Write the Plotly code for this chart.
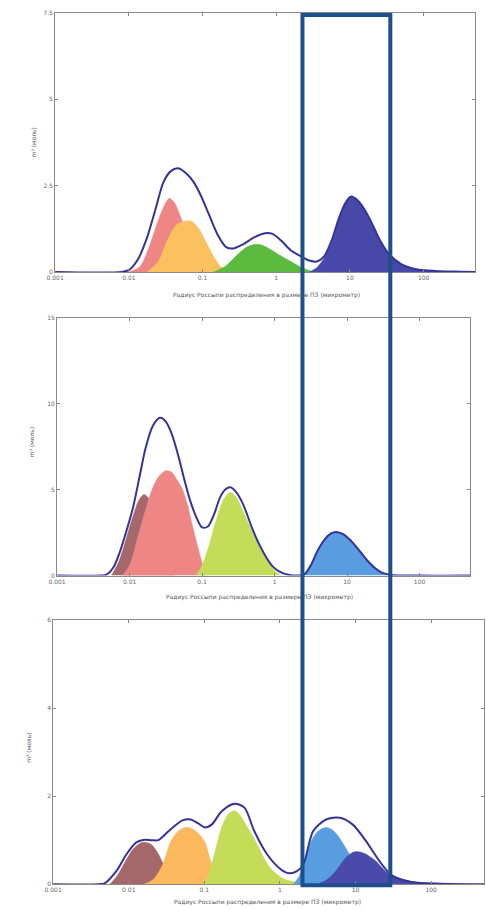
import plotly.graph_objects as go

# ---------------- data (x as log10 of radius, y as amplitude) ----------------
tick_vals = [0.001, 0.01, 0.1, 1, 10, 100]
tick_text = ["0.001", "0.01", "0.1", "1", "10", "100"]

# Panel 1
p1_env_logr = [-3, -2.1, -2.0, -1.88, -1.76, -1.64, -1.53, -1.43, -1.33, -1.22, -1.12, -1.02, -0.92, -0.8,
               -0.68, -0.58, -0.45, -0.3, -0.15, -0.05, 0.07, 0.2, 0.33, 0.45, 0.55, 0.65, 0.75, 0.85, 0.94,
               1.01, 1.1, 1.2, 1.3, 1.4, 1.53, 1.7, 1.9, 2.15, 2.4, 2.7]
p1_env_y = [0, 0, 0.05, 0.35, 0.95, 1.8, 2.6, 2.92, 3.0, 2.85, 2.6, 2.2, 1.7, 1.1, 0.72, 0.68, 0.8, 1.0, 1.12,
            1.1, 0.9, 0.62, 0.46, 0.33, 0.3, 0.45, 0.9, 1.55, 2.0, 2.18, 2.08, 1.8, 1.4, 0.95, 0.52, 0.22,
            0.08, 0.03, 0.01, 0]
p1_pink_logr = [-2.0, -1.85, -1.72, -1.6, -1.5, -1.45, -1.38, -1.28, -1.15, -1.0, -0.85]
p1_pink_y = [0, 0.15, 0.75, 1.5, 2.0, 2.13, 2.0, 1.5, 0.85, 0.25, 0]
p1_orange_logr = [-1.75, -1.6, -1.48, -1.36, -1.25, -1.15, -1.05, -0.95, -0.85, -0.75, -0.62]
p1_orange_y = [0, 0.3, 0.9, 1.35, 1.47, 1.47, 1.25, 0.85, 0.45, 0.15, 0]
p1_green_logr = [-0.85, -0.7, -0.55, -0.4, -0.28, -0.2, -0.1, 0.05, 0.2, 0.35, 0.5]
p1_green_y = [0, 0.15, 0.45, 0.72, 0.8, 0.78, 0.68, 0.48, 0.3, 0.12, 0]
p1_blue_logr = [0.45, 0.55, 0.65, 0.75, 0.85, 0.94, 1.01, 1.1, 1.2, 1.3, 1.4, 1.53, 1.7, 1.9, 2.15, 2.4]
p1_blue_y = [0, 0.12, 0.4, 0.85, 1.5, 2.0, 2.18, 2.08, 1.8, 1.4, 0.95, 0.52, 0.22, 0.08, 0.03, 0]

# Panel 2
p2_env_logr = [-3, -2.4, -2.32, -2.22, -2.14, -2.05, -1.95, -1.86, -1.78, -1.68, -1.58, -1.5, -1.42, -1.33,
               -1.24, -1.16, -1.08, -1.0, -0.92, -0.84, -0.75, -0.68, -0.61, -0.53, -0.44, -0.37, -0.3,
               -0.21, -0.12, -0.03, 0.06, 0.19, 0.37, 0.42, 0.5, 0.6, 0.7, 0.78, 0.85, 0.95, 1.04, 1.15,
               1.27, 1.38, 1.48, 1.6, 2.0, 2.7]
p2_env_y = [0, 0, 0.05, 0.5, 1.3, 2.5, 4.0, 5.8, 7.4, 8.7, 9.17, 8.95, 8.25, 7.0, 5.5, 4.3, 3.4, 2.8, 2.85,
            3.5, 4.56, 5.0, 5.13, 4.85, 4.2, 3.45, 2.65, 1.8, 1.1, 0.55, 0.25, 0.05, 0.02, 0.1, 0.6, 1.5,
            2.15, 2.45, 2.54, 2.4, 2.08, 1.55, 0.92, 0.45, 0.17, 0.04, 0, 0]
p2_brown_logr = [-2.25, -2.15, -2.05, -1.95, -1.87, -1.8, -1.72, -1.62, -1.5, -1.38]
p2_brown_y = [0, 0.8, 2.1, 3.5, 4.4, 4.72, 4.4, 3.3, 1.6, 0]
p2_pink_logr = [-2.1, -2.0, -1.87, -1.76, -1.68, -1.6, -1.5, -1.42, -1.35, -1.28, -1.2, -1.15, -1.08, -1.01, -0.95]
p2_pink_y = [0, 0.6, 2.5, 4.1, 5.1, 5.75, 6.1, 6.0, 5.6, 5.1, 4.1, 3.2, 2.0, 0.9, 0]
p2_lime_logr = [-1.08, -1.0, -0.9, -0.8, -0.7, -0.61, -0.52, -0.44, -0.35, -0.26, -0.16, -0.07, 0.02, 0.1]
p2_lime_y = [0, 0.6, 1.8, 3.3, 4.45, 4.85, 4.5, 3.8, 2.95, 2.08, 1.3, 0.7, 0.2, 0]
p2_lblue_logr = [0.37, 0.42, 0.5, 0.6, 0.7, 0.78, 0.85, 0.95, 1.04, 1.15, 1.27, 1.38, 1.48, 1.6]
p2_lblue_y = [0, 0.1, 0.6, 1.5, 2.15, 2.45, 2.54, 2.4, 2.08, 1.55, 0.92, 0.45, 0.17, 0]

# Panel 3
p3_env_logr = [-3, -2.4, -2.32, -2.16, -2.03, -1.9, -1.79, -1.7, -1.61, -1.47, -1.29, -1.18, -1.08, -0.99,
               -0.9, -0.77, -0.6, -0.47, -0.34, -0.17, 0.01, 0.12, 0.22, 0.31, 0.44, 0.61, 0.79, 0.96, 1.13,
               1.31, 1.48, 1.74, 2.13, 2.7]
p3_env_y = [0, 0, 0.02, 0.31, 0.68, 0.95, 1.01, 1.0, 1.0, 1.21, 1.45, 1.47, 1.38, 1.29, 1.36, 1.66, 1.83,
            1.74, 1.21, 0.68, 0.34, 0.25, 0.29, 0.45, 1.21, 1.47, 1.51, 1.36, 1.0, 0.54, 0.2, 0.05, 0.01, 0]
p3_brown_logr = [-2.25, -2.15, -2.05, -1.95, -1.85, -1.77, -1.7, -1.62, -1.54, -1.46, -1.38]
p3_brown_y = [0, 0.2, 0.5, 0.78, 0.93, 0.95, 0.9, 0.72, 0.45, 0.18, 0]
p3_orange_logr = [-1.8, -1.68, -1.55, -1.45, -1.35, -1.27, -1.21, -1.14, -1.06, -0.99, -0.92, -0.84, -0.74]
p3_orange_y = [0, 0.1, 0.45, 0.95, 1.2, 1.28, 1.29, 1.24, 1.12, 0.95, 0.55, 0.15, 0]
p3_lime_logr = [-1.0, -0.93, -0.85, -0.77, -0.68, -0.6, -0.52, -0.44, -0.36, -0.27, -0.18, -0.08, 0.05, 0.2, 0.3]
p3_lime_y = [0, 0.3, 0.8, 1.3, 1.6, 1.67, 1.55, 1.32, 1.1, 0.8, 0.5, 0.28, 0.12, 0.05, 0]
p3_lblue_logr = [0.18, 0.26, 0.34, 0.42, 0.5, 0.6, 0.68, 0.76, 0.85, 0.95, 1.05, 1.15, 1.3]
p3_lblue_y = [0, 0.2, 0.6, 1.0, 1.2, 1.29, 1.25, 1.12, 0.88, 0.6, 0.35, 0.15, 0]
p3_dblue_logr = [0.5, 0.62, 0.74, 0.87, 0.96, 1.03, 1.12, 1.26, 1.36, 1.44, 1.61, 1.8, 2.0, 2.2]
p3_dblue_y = [0, 0.1, 0.3, 0.6, 0.72, 0.74, 0.7, 0.54, 0.36, 0.23, 0.1, 0.04, 0.01, 0]

y_ticks = [[0, 2.5, 5, 7.5], [0, 5, 10, 15], [0, 2, 4, 6]]
x_title = "Радиус Россыпи распределения в размере ПЗ (микрометр)"
y_title = "m³ (моль)"

# ---------------- styling ----------------
ENV = "#34339a"
W, H = 486, 911


def px_dom(a, b, total):
    return [a / total, b / total]


panels = [
    dict(x=(47, 475), y=(9, 270)),
    dict(x=(49, 470), y=(316, 576)),
    dict(x=(45, 484), y=(621, 887)),
]

fig = go.Figure()


def comp(logr, y, color, idx):
    fig.add_trace(go.Scatter(
        x=[10 ** v for v in logr], y=y, mode="lines", line=dict(color=color, width=0.5, shape="spline", smoothing=0.8),
        fill="tozeroy", fillcolor=color, xaxis=f"x{idx}", yaxis=f"y{idx}", showlegend=False, hoverinfo="skip"))


def env(logr, y, idx):
    fig.add_trace(go.Scatter(
        x=[10 ** v for v in logr], y=y, mode="lines", line=dict(color=ENV, width=2, shape="spline", smoothing=0.8),
        xaxis=f"x{idx}", yaxis=f"y{idx}", showlegend=False, hoverinfo="skip"))


# panel 1
comp(p1_pink_logr, p1_pink_y, "#ef8686", 1)
comp(p1_orange_logr, p1_orange_y, "#fbc060", 1)
comp(p1_green_logr, p1_green_y, "#5cbb3e", 1)
comp(p1_blue_logr, p1_blue_y, "#4848a8", 1)
env(p1_env_logr, p1_env_y, 1)
# panel 2
comp(p2_brown_logr, p2_brown_y, "#a4676a", 2)
comp(p2_pink_logr, p2_pink_y, "#ef8686", 2)
comp(p2_lime_logr, p2_lime_y, "#c4dc58", 2)
comp(p2_lblue_logr, p2_lblue_y, "#589ddf", 2)
env(p2_env_logr, p2_env_y, 2)
# panel 3
comp(p3_brown_logr, p3_brown_y, "#a4676a", 3)
comp(p3_orange_logr, p3_orange_y, "#fbb85c", 3)
comp(p3_lime_logr, p3_lime_y, "#c4dc58", 3)
comp(p3_lblue_logr, p3_lblue_y, "#589ddf", 3)
comp(p3_dblue_logr, p3_dblue_y, "#4a4aab", 3)
env(p3_env_logr, p3_env_y, 3)

layout = dict(
    width=W, height=H, margin=dict(l=0, r=0, t=0, b=0),
    paper_bgcolor="white", plot_bgcolor="white",
    font=dict(family="DejaVu Sans", size=6, color="#666666"),
    showlegend=False,
)
annotations = []
for i, p in enumerate(panels, start=1):
    xd = px_dom(p["x"][0], p["x"][1], W)
    yd = [1 - p["y"][1] / H, 1 - p["y"][0] / H]
    ymax = y_ticks[i - 1][-1]
    layout[f"xaxis{i}" if i > 1 else "xaxis"] = dict(
        domain=xd, type="log", range=[-3, 2.7], anchor=f"y{i}",
        tickvals=tick_vals, ticktext=tick_text, ticks="inside", ticklen=3, tickcolor="#888888",
        showline=True, linecolor="#8a8a8a", linewidth=1, mirror="ticks", showgrid=False, zeroline=False,
        tickfont=dict(size=6, color="#666666"))
    layout[f"yaxis{i}" if i > 1 else "yaxis"] = dict(
        domain=yd, range=[0, ymax], anchor=f"x{i}",
        tickvals=y_ticks[i - 1], ticks="inside", ticklen=3, tickcolor="#888888",
        showline=True, linecolor="#8a8a8a", linewidth=1, mirror="ticks", showgrid=False, zeroline=False,
        tickfont=dict(size=6, color="#666666"))

title_pos = [((262, 293), (25, 140)), ((255, 598), (23, 442)), ((263, 905), (20, 750))]
for (xt, yt) in title_pos:
    annotations.append(dict(text=x_title, x=xt[0] / W, y=1 - xt[1] / H, xref="paper", yref="paper",
                            showarrow=False, font=dict(size=6, color="#555555"), xanchor="center", yanchor="middle"))
    annotations.append(dict(text=y_title, x=yt[0] / W, y=1 - yt[1] / H, xref="paper", yref="paper",
                            showarrow=False, textangle=-90, font=dict(size=6, color="#555555"),
                            xanchor="center", yanchor="middle"))
layout["annotations"] = annotations

# highlight rectangle spanning all three panels
layout["shapes"] = [dict(type="rect", xref="paper", yref="paper",
                         x0=299 / W, x1=388.5 / W, y0=1 - 888 / H, y1=1 - 11 / H,
                         line=dict(color="#1d4f8c", width=4), fillcolor="rgba(0,0,0,0)", layer="above")]

fig.update_layout(**layout)
fig.write_html("out.html")
